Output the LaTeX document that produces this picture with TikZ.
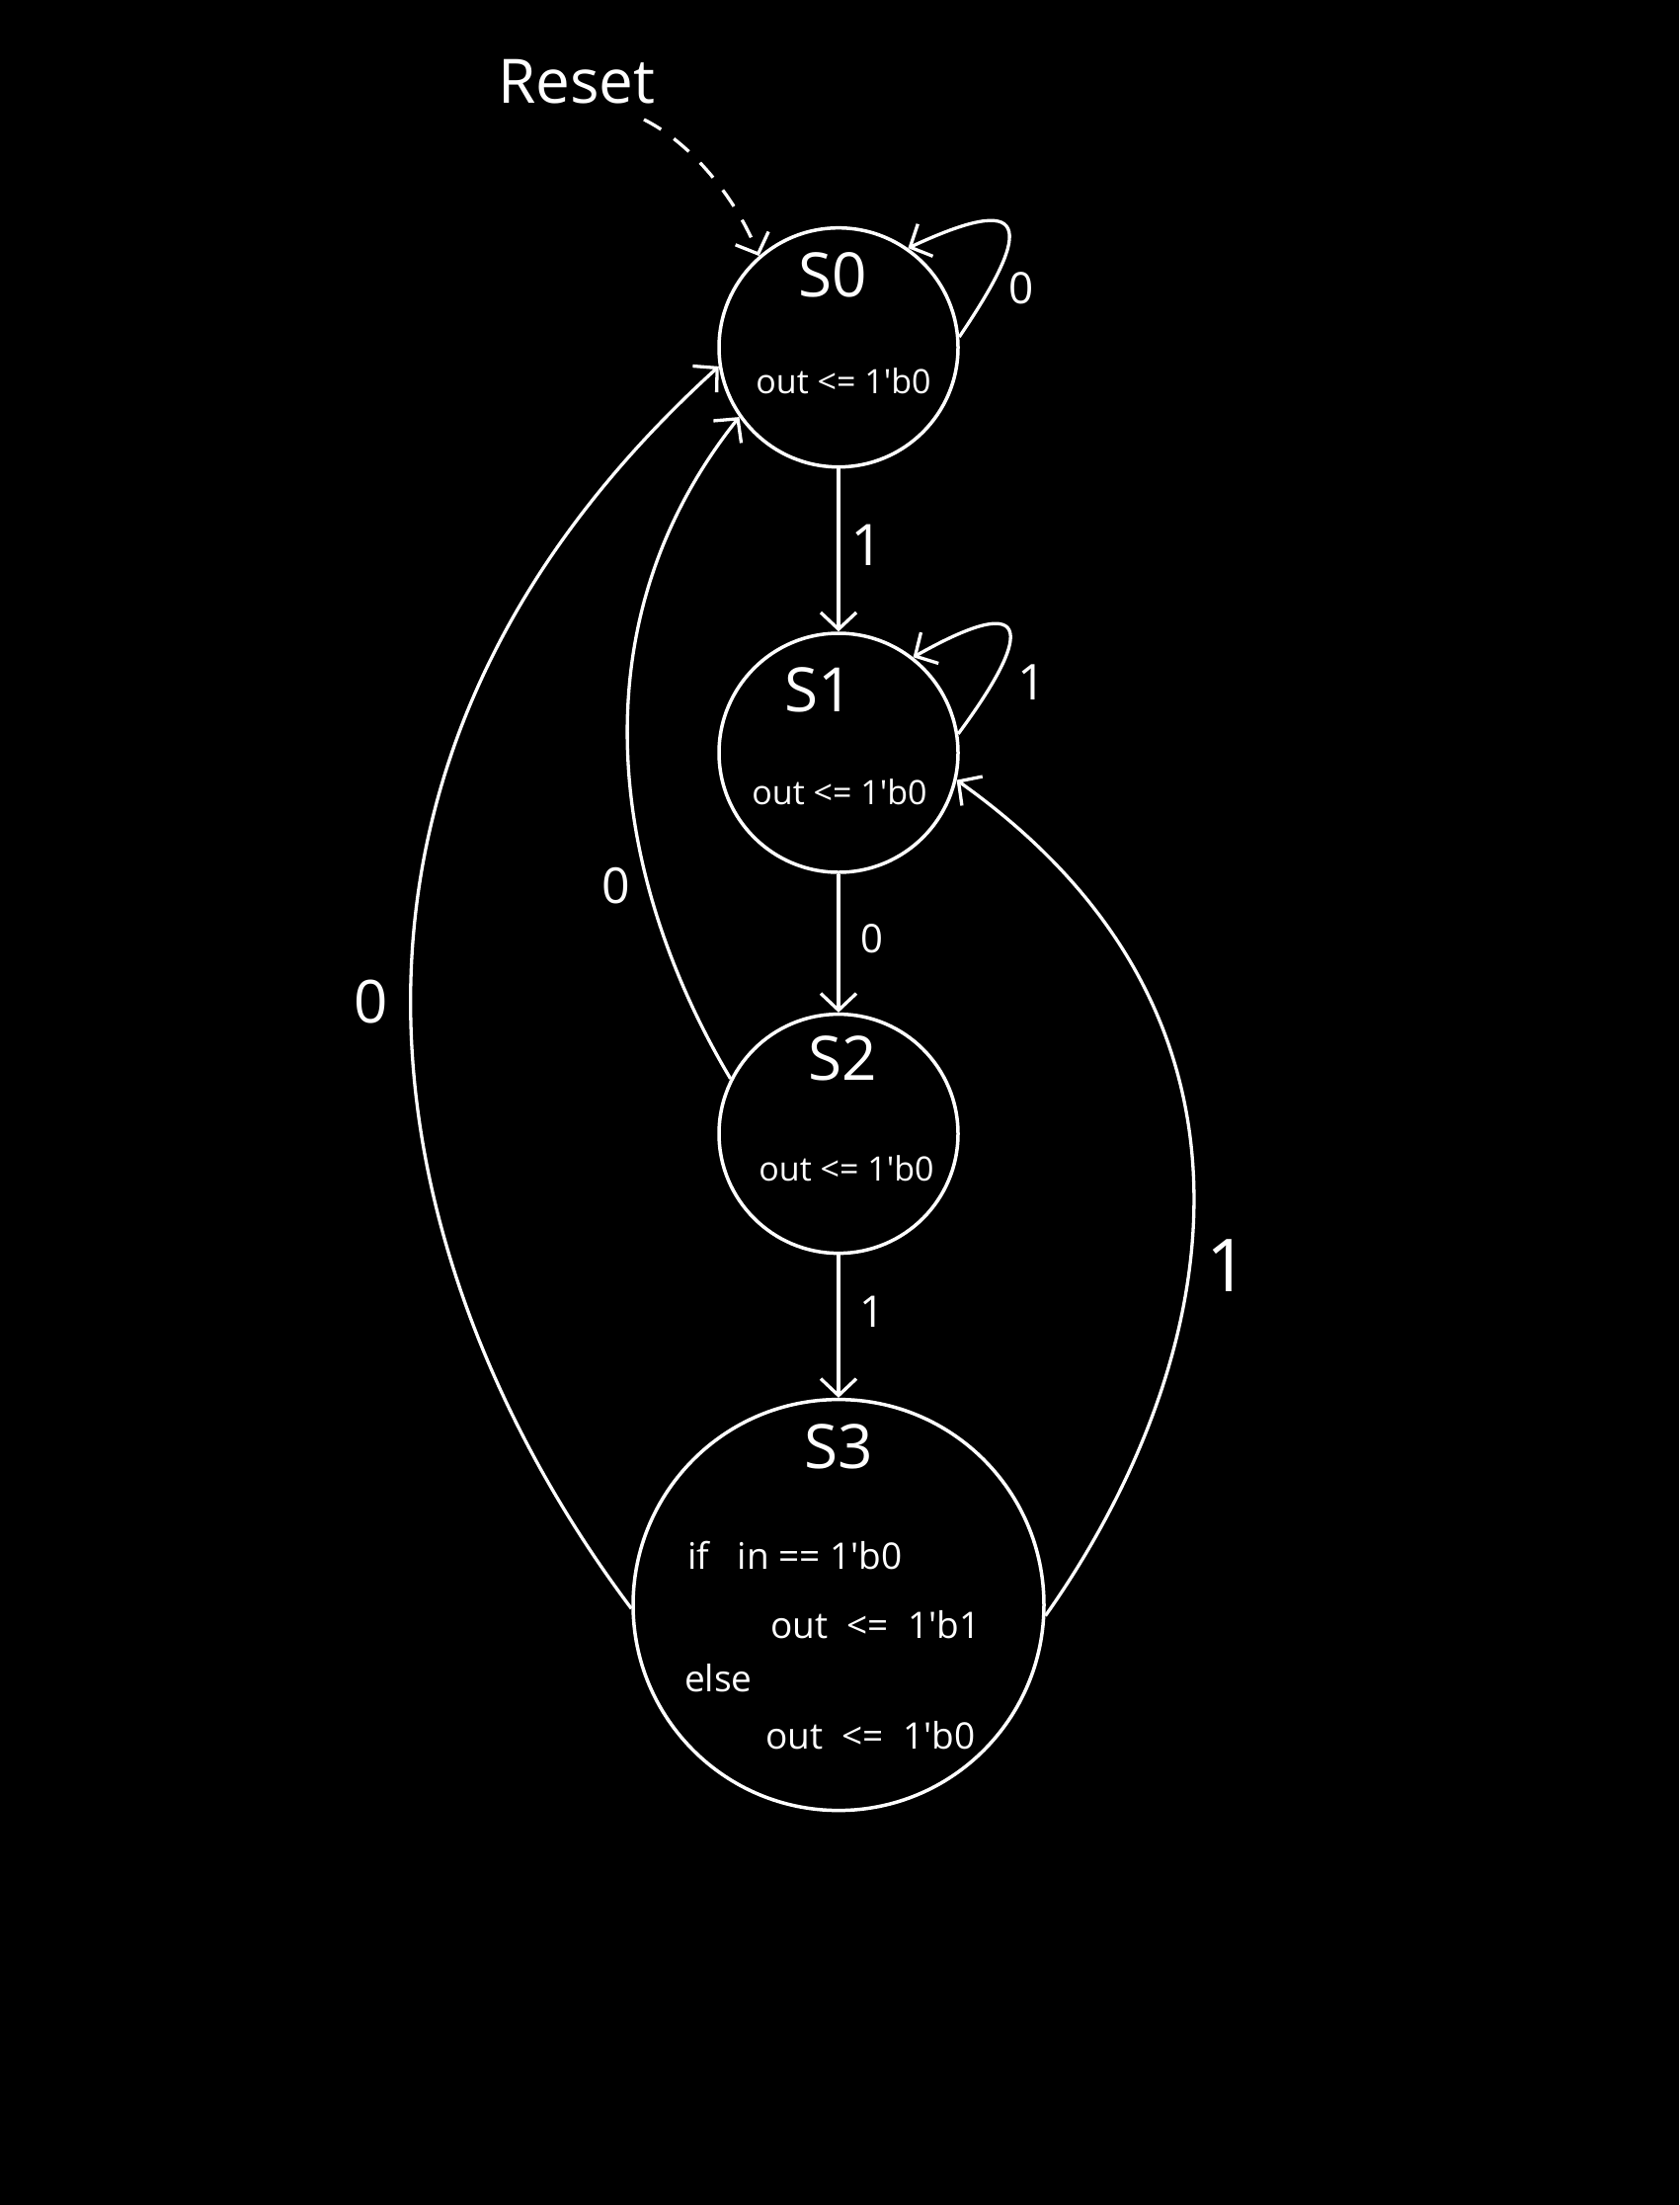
\documentclass[tikz,border=0pt]{standalone}
\usepackage{fontspec}
\setmainfont{Open Sans}
\usetikzlibrary{arrows.meta}
\newcommand{\fs}[1]{\fontsize{#1}{#1}\selectfont}
\newcommand{\q}{\textquotesingle}
\begin{document}
\begin{tikzpicture}[x=1pt,y=-1pt,
  state/.style={circle, draw=white, line width=3.5pt, minimum size=242pt, inner sep=0pt},
  bigstate/.style={state, minimum size=416pt},
  edge/.style={draw=white, line width=3.3pt, -{Straight Barb[length=17pt,width=36pt,line width=3.3pt]}},
  lbl/.style={text=white, inner sep=0pt},
  sname/.style={lbl, font=\fs{62}},
  sout/.style={lbl, font=\fs{34}},
  scode/.style={lbl, font=\fs{37}, anchor=west},
]
\fill[black] (0,0) rectangle (1700,2232);
\useasboundingbox (0,0) rectangle (1700,2232);

% states
\node[state] (S0) at (849,351.7) {};
\node[state] (S1) at (849,762) {};
\node[state] (S2) at (849,1147.6) {};
\node[bigstate] (S3) at (849,1624.6) {};

% state texts
\node[sname] (n0) at (843,278) {S0};
\node[sout] (o0) at (854,386) {out <= 1\q b0};
\node[sname] (n1) at (829,698) {S1};
\node[sout] (o1) at (850,802) {out <= 1\q b0};
\node[sname] (n2) at (853,1071) {S2};
\node[sout] (o2) at (857,1183) {out <= 1\q b0};
\node[sname] (n3) at (849,1464) {S3};
\node[scode] (c1) at (696,1575) {if\ \ \ in == 1\q b0};
\node[scode] (c2) at (780,1645) {out\ \ <=\ \ 1\q b1};
\node[scode] (c3) at (693,1699) {else};
\node[scode] (c4) at (775,1757) {out\ \ <=\ \ 1\q b0};

% reset
\node[lbl, font=\fs{62}] (reset) at (584,83) {Reset};
\coordinate (rs) at (652,121);
\draw[edge, dash pattern=on 20pt off 16pt] (rs) .. controls (700,145) and (745,200) .. (S0.131);

% straight transitions
\draw[edge] (S0.south) -- (S1.north);
\draw[edge] (S1.south) -- (S2.north);
\draw[edge] (S2.south) -- (S3.north);

% self loops
\draw[edge] (S0.5) .. controls (1050,225) and (1040,195) .. (S0.55);
\draw[edge] (S1.9) .. controls (1052,632) and (1040,600) .. (S1.52);

% curved transitions
\draw[edge] (S2.153) .. controls (625,900) and (575,640) .. (S0.215);
\draw[edge] (S3.181.5) .. controls (400,1310) and (255,800) .. (S0.189);
\draw[edge] (S3.-3.5) .. controls (1225,1400) and (1322,1040) .. (S1.-13);

% edge labels
\node[lbl, font=\fs{44}] (l1) at (1034,292) {0};
\node[lbl, font=\fs{58}] (l2) at (878.5,552) {1};
\node[lbl, font=\fs{50}] (l3) at (1045,690.5) {1};
\node[lbl, font=\fs{40}] (l4) at (883,950) {0};
\node[lbl, font=\fs{50}] (l5) at (623.6,897) {0};
\node[lbl, font=\fs{60}] (l6) at (376,1014) {0};
\node[lbl, font=\fs{44}] (l7) at (883,1328) {1};
\node[lbl, font=\fs{74}] (l8) at (1243,1281) {1};
\end{tikzpicture}
\end{document}
